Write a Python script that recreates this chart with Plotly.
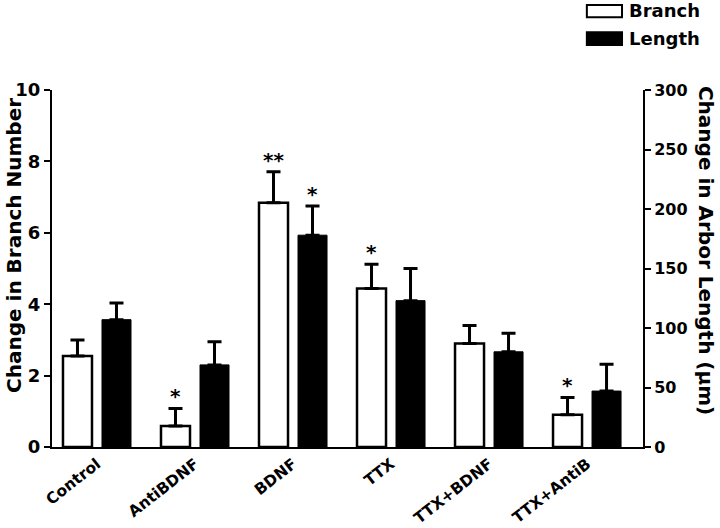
import plotly.graph_objects as go

categories = ["Control", "AntiBDNF", "BDNF", "TTX", "TTX+BDNF", "TTX+AntiB"]
branch = [2.55, 0.59, 6.84, 4.44, 2.90, 0.90]
branch_err = [0.45, 0.49, 0.87, 0.68, 0.50, 0.49]
length = [107, 69, 178, 123, 80, 47]
length_err = [14, 19.5, 24.5, 27, 15.5, 22.5]
branch_stars = ["", "*", "**", "*", "", "*"]
length_stars = ["", "", "*", "", "", ""]

FONT = "DejaVu Sans"
BW = 0.296

fig = go.Figure()
fig.add_trace(go.Bar(
    x=categories, y=branch, name="Branch", yaxis="y",
    width=BW, offset=-0.347,
    marker=dict(color="white", line=dict(color="black", width=2.5)),
    error_y=dict(type="data", array=branch_err, arrayminus=[0] * len(branch),
                 symmetric=False, color="black", thickness=3, width=7),
    showlegend=False,
))
fig.add_trace(go.Bar(
    x=categories, y=length, name="Length", yaxis="y2",
    width=BW, offset=0.051,
    marker=dict(color="black", line=dict(color="black", width=1)),
    error_y=dict(type="data", array=length_err, arrayminus=[0] * len(length),
                 symmetric=False, color="black", thickness=3, width=7),
    showlegend=False,
))

annotations = []
for i, c in enumerate(categories):
    if branch_stars[i]:
        annotations.append(dict(x=i - 0.347 + BW / 2, y=branch[i] + branch_err[i],
                                xref="x", yref="y", text=branch_stars[i], showarrow=False,
                                yanchor="bottom", yshift=-2,
                                font=dict(family=FONT, size=20, color="black", weight="bold")))
    if length_stars[i]:
        annotations.append(dict(x=i + 0.051 + BW / 2, y=length[i] + length_err[i],
                                xref="x", yref="y2", text=length_stars[i], showarrow=False,
                                yanchor="bottom", yshift=-2,
                                font=dict(family=FONT, size=20, color="black", weight="bold")))

# axis titles
annotations.append(dict(x=-0.0643, y=0.566, xref="paper", yref="paper",
                        text="Change in Branch Number", textangle=-90, showarrow=False,
                        xanchor="center", yanchor="middle",
                        font=dict(family=FONT, size=20, color="black", weight="bold")))
annotations.append(dict(x=1.1066, y=0.552, xref="paper", yref="paper",
                        text="Change in Arbor Length (μm)", textangle=90, showarrow=False,
                        xanchor="center", yanchor="middle",
                        font=dict(family=FONT, size=20, color="black", weight="bold")))

# legend drawn as shapes + text
shapes = [
    dict(type="rect", xref="paper", yref="paper", x0=0.905, x1=0.9645, y0=1.204, y1=1.238,
         fillcolor="white", line=dict(color="black", width=2)),
    dict(type="rect", xref="paper", yref="paper", x0=0.905, x1=0.9645, y0=1.126, y1=1.162,
         fillcolor="black", line=dict(color="black", width=2)),
]
annotations.append(dict(x=0.973, y=1.222, xref="paper", yref="paper", text="Branch",
                        showarrow=False, xanchor="left", yanchor="middle",
                        font=dict(family=FONT, size=18, color="black", weight="bold")))
annotations.append(dict(x=0.973, y=1.143, xref="paper", yref="paper", text="Length",
                        showarrow=False, xanchor="left", yanchor="middle",
                        font=dict(family=FONT, size=18, color="black", weight="bold")))

fig.update_layout(
    width=720, height=528,
    margin=dict(l=52, r=77, t=90, b=81),
    paper_bgcolor="white", plot_bgcolor="white",
    barmode="overlay",
    font=dict(family=FONT, color="black", weight="bold"),
    xaxis=dict(range=[-0.459, 5.571], showline=True, linecolor="black", linewidth=2,
               ticks="", tickangle=-38, showgrid=False, zeroline=False, automargin=False,
               tickfont=dict(family=FONT, size=15.5, weight="bold")),
    yaxis=dict(range=[0, 10], tickvals=[0, 2, 4, 6, 8, 10], showline=True, linecolor="black",
               linewidth=2, ticks="outside", ticklen=6, tickwidth=2, tickcolor="black",
               showgrid=False, zeroline=False, automargin=False,
               tickfont=dict(family=FONT, size=18, weight="bold")),
    yaxis2=dict(range=[0, 300], tickvals=[0, 50, 100, 150, 200, 250, 300], overlaying="y",
                side="right", showline=True, linecolor="black", linewidth=2,
                ticks="outside", ticklen=6, tickwidth=2, tickcolor="black",
                showgrid=False, zeroline=False, automargin=False,
                tickfont=dict(family=FONT, size=16, weight="bold")),
    shapes=shapes,
    annotations=annotations,
)

fig.write_html("out.html", config={"displayModeBar": False},
               post_script="document.body.style.margin='0';document.body.style.padding='0';")
